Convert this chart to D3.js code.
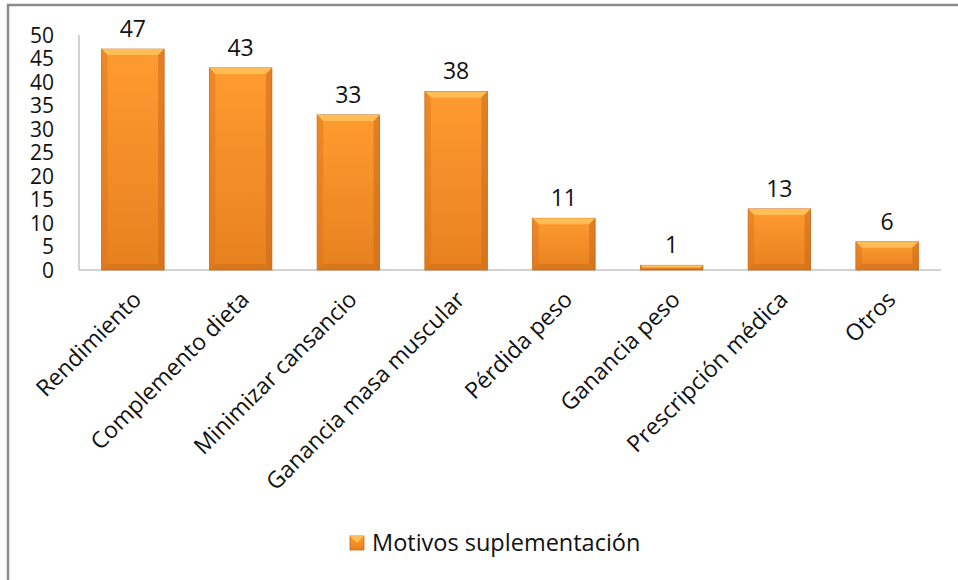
<!DOCTYPE html>
<html lang="es">
<head>
<meta charset="UTF-8">
<title>Motivos suplementación</title>
<script src="https://d3js.org/d3.v7.min.js"></script>
<style>
    body { margin: 0; background: #fff; font-family: "Open Sans", Lato, sans-serif; }
    svg { display: block; }
</style>
</head>
<body>
<svg id="chart" width="958" height="580"></svg>
<script>
    const categories = ["Rendimiento", "Complemento dieta", "Minimizar cansancio", "Ganancia masa muscular",
        "Pérdida peso", "Ganancia peso", "Prescripción médica", "Otros"];
    const values = [47, 43, 33, 38, 11, 1, 13, 6];
    const yTicks = [0, 5, 10, 15, 20, 25, 30, 35, 40, 45, 50];
    const seriesName = "Motivos suplementación";

    const width = 958, height = 580;
    const margin = { left: 79, right: 17, top: 35, bottom: 310 };
    const svg = d3.select("#chart");

    // frame: only top and left edges show in the original
    svg.append("path")
        .attr("d", `M8,${height} L8,5 L${width},5`)
        .attr("fill", "none")
        .attr("stroke", "#8c8c8c")
        .attr("stroke-width", 2.5);

    const x = d3.scaleBand()
        .domain(categories)
        .range([margin.left, width - margin.right])
        .paddingInner(0.42)
        .paddingOuter(0.21);

    const y = d3.scaleLinear()
        .domain([0, 50])
        .range([height - margin.bottom, margin.top]);

    const defs = svg.append("defs");
    const grad = defs.append("linearGradient").attr("id", "barFill")
        .attr("x1", 0).attr("y1", 0).attr("x2", 0).attr("y2", 1);
    grad.append("stop").attr("offset", "0%").attr("stop-color", "#fe9b30");
    grad.append("stop").attr("offset", "100%").attr("stop-color", "#e7811f");

    // axes lines
    svg.append("line")
        .attr("x1", margin.left).attr("x2", margin.left)
        .attr("y1", y(50)).attr("y2", y(0))
        .attr("stroke", "#a6a6a6").attr("stroke-width", 1);
    svg.append("line")
        .attr("x1", margin.left).attr("x2", width - margin.right)
        .attr("y1", y(0)).attr("y2", y(0))
        .attr("stroke", "#a6a6a6").attr("stroke-width", 1);

    // y tick labels (tightly packed, as in the original)
    svg.append("g").selectAll("text")
        .data(yTicks)
        .enter().append("text")
        .attr("x", 54)
        .attr("y", d => y(d))
        .attr("dy", "0.36em")
        .attr("text-anchor", "end")
        .attr("font-size", 21)
        .attr("fill", "#111")
        .text(d => d);

    // bars with a small bevel
    const bars = svg.append("g").selectAll("g")
        .data(categories.map((c, i) => ({ c, v: values[i] })))
        .enter().append("g");

    bars.append("rect")
        .attr("x", d => x(d.c))
        .attr("y", d => y(d.v))
        .attr("width", x.bandwidth())
        .attr("height", d => y(0) - y(d.v))
        .attr("fill", "url(#barFill)")
        .attr("stroke", "#c7691a")
        .attr("stroke-width", 0.8);

    const bev = d => Math.min(6, (y(0) - y(d.v)) / 2);
    // top highlight
    bars.append("path")
        .attr("d", d => {
            const x0 = x(d.c), x1 = x0 + x.bandwidth(), t = y(d.v), b = bev(d);
            return `M${x0},${t} L${x1},${t} L${x1 - b},${t + b} L${x0 + b},${t + b} Z`;
        })
        .attr("fill", "#ffc25a").attr("opacity", 0.9);
    // side shading
    bars.append("path")
        .attr("d", d => {
            const x0 = x(d.c), t = y(d.v), b = bev(d), bot = y(0);
            return `M${x0},${t} L${x0 + b},${t + b} L${x0 + b},${bot - b} L${x0},${bot} Z`;
        })
        .attr("fill", "#d9731c").attr("opacity", 0.45);
    bars.append("path")
        .attr("d", d => {
            const x1 = x(d.c) + x.bandwidth(), t = y(d.v), b = bev(d), bot = y(0);
            return `M${x1},${t} L${x1 - b},${t + b} L${x1 - b},${bot - b} L${x1},${bot} Z`;
        })
        .attr("fill", "#c5661a").attr("opacity", 0.5);
    bars.append("path")
        .attr("d", d => {
            const x0 = x(d.c), x1 = x0 + x.bandwidth(), b = bev(d), bot = y(0);
            return `M${x0},${bot} L${x1},${bot} L${x1 - b},${bot - b} L${x0 + b},${bot - b} Z`;
        })
        .attr("fill", "#c5661a").attr("opacity", 0.4);

    // value labels
    bars.append("text")
        .attr("x", d => x(d.c) + x.bandwidth() / 2)
        .attr("y", d => y(d.v) - 12)
        .attr("text-anchor", "middle")
        .attr("font-size", 23)
        .attr("fill", "#111")
        .text(d => d.v);

    // category labels, rotated
    svg.append("g").selectAll("text")
        .data(categories)
        .enter().append("text")
        .attr("transform", d => `translate(${x(d) + x.bandwidth() / 2 + 10},${y(0) + 31}) rotate(-45)`)
        .attr("text-anchor", "end")
        .attr("font-size", 23)
        .attr("fill", "#111")
        .text(d => d);

    // legend
    const legend = svg.append("g").attr("transform", "translate(350,536)");
    legend.append("rect")
        .attr("width", 14).attr("height", 14)
        .attr("fill", "url(#barFill)")
        .attr("stroke", "#c7691a").attr("stroke-width", 0.8);
    legend.append("path")
        .attr("d", "M0,0 L14,0 L7,7 Z")
        .attr("fill", "#ffc25a").attr("opacity", 0.9);
    legend.append("text")
        .attr("x", 22)
        .attr("y", 15)
        .attr("font-size", 23.5)
        .attr("fill", "#111")
        .text(seriesName);
</script>
</body>
</html>
